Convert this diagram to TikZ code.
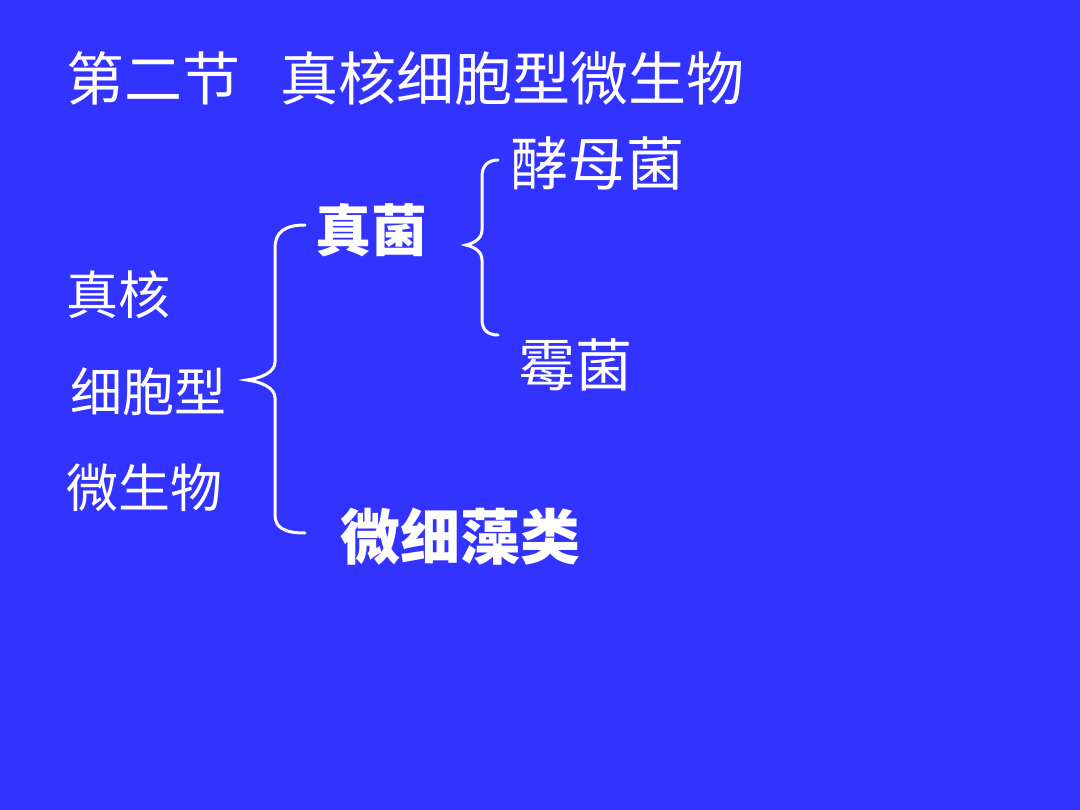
\documentclass[tikz,border=0pt]{standalone}
\usepackage{fontspec}
\newfontfamily\cjk{Noto Sans CJK SC}
\definecolor{bg}{HTML}{3333FF}
\begin{document}
\begin{tikzpicture}[x=1pt,y=-1pt,
  txt/.style={text=white,inner sep=0pt,anchor=west,font=\cjk},
  brace/.style={draw=white,line width=3pt,line cap=round}]
\fill[bg] (0,0) rectangle (1080,810);
\useasboundingbox (0,0) rectangle (1080,810);
\node[txt,font=\cjk\fontsize{58}{58}\selectfont] (title) at (66,78) {第二节\hspace{40pt}真核细胞型微生物};
\node[txt,font=\cjk\bfseries\fontsize{56}{56}\selectfont] (zj) at (315,230) {真菌};
\node[txt,font=\cjk\fontsize{58}{58}\selectfont] (jmj) at (510,163) {酵母菌};
\node[txt,font=\cjk\fontsize{57}{57}\selectfont] (mj) at (518,365) {霉菌};
\node[txt,font=\cjk\bfseries\fontsize{60}{60}\selectfont] (wxzl) at (340,537) {微细藻类};
\node[txt,font=\cjk\fontsize{52}{52}\selectfont] (l1) at (66,295) {真核};
\node[txt,font=\cjk\fontsize{52}{52}\selectfont] (l2) at (70,392) {细胞型};
\node[txt,font=\cjk\fontsize{52}{52}\selectfont] (l3) at (66,488) {微生物};
\draw[brace] (305,225) .. controls (285,225) and (275,232) .. (275,248) -- (275,362) .. controls (275,372) and (262,378) .. (247,380) .. controls (262,382) and (275,388) .. (275,398) -- (275,515) .. controls (275,528) and (285,533) .. (305,533);
\draw[brace] (498,160) .. controls (488,160) and (482,166) .. (482,176) -- (482,230) .. controls (482,238) and (475,243) .. (466,245) .. controls (475,247) and (482,252) .. (482,260) -- (482,320) .. controls (482,330) and (488,335) .. (498,335);
\end{tikzpicture}
\end{document}
